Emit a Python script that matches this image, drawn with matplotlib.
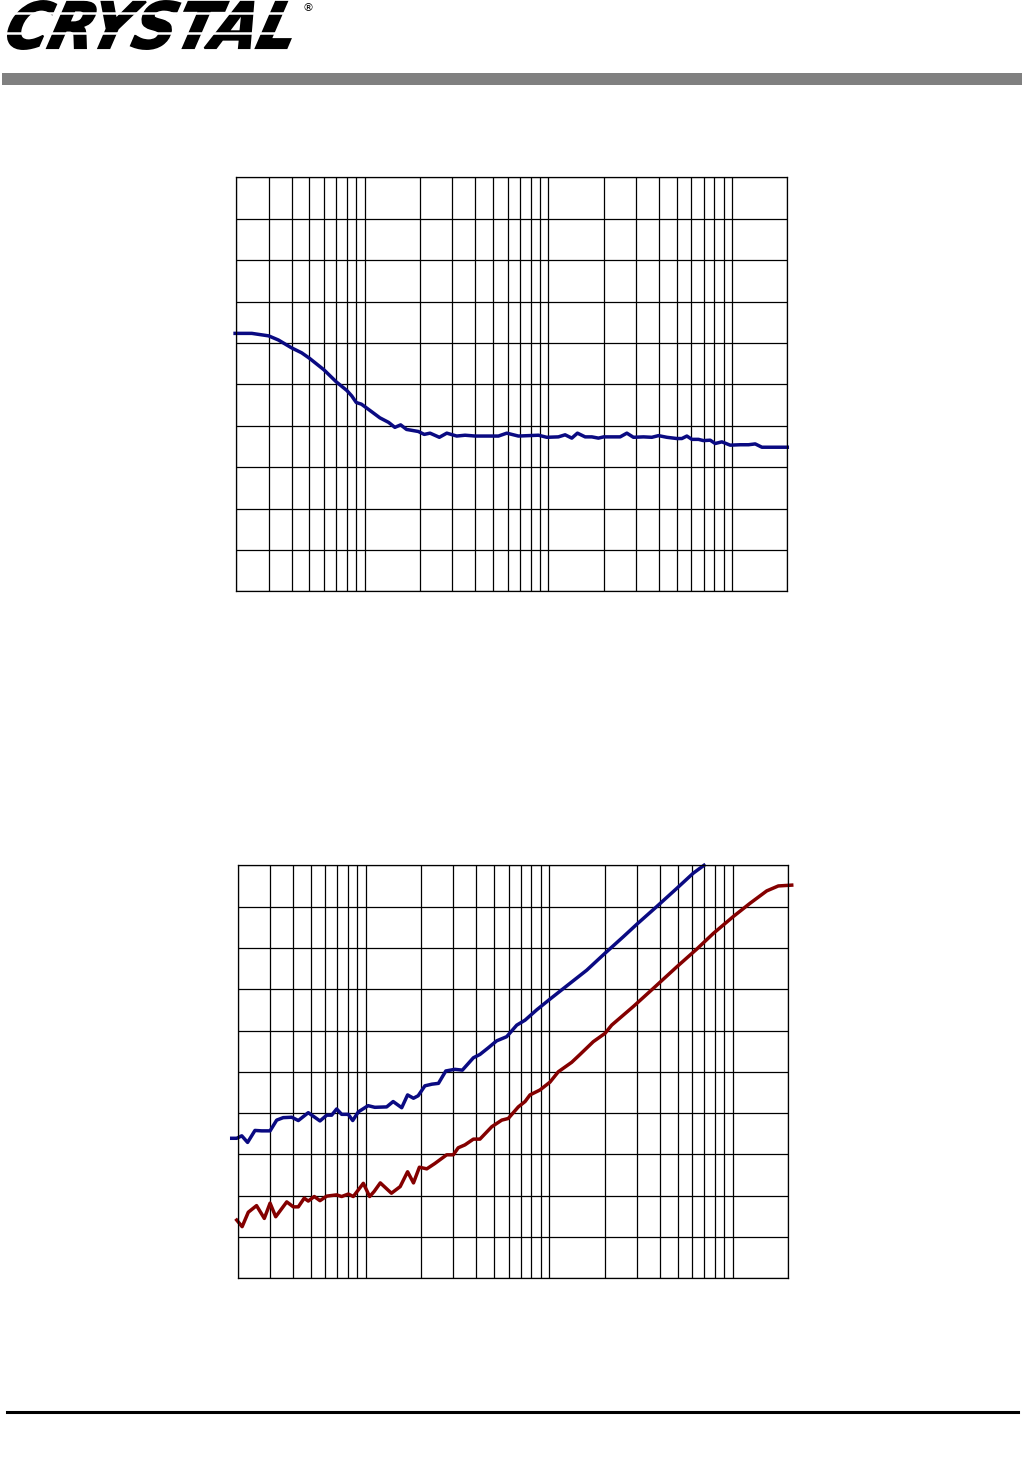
import matplotlib
matplotlib.use("Agg")
import matplotlib.pyplot as plt
from matplotlib.ticker import MultipleLocator
from matplotlib.lines import Line2D
from matplotlib.patches import Rectangle, PathPatch
from matplotlib.textpath import TextPath
from matplotlib.font_manager import FontProperties
from matplotlib.transforms import Affine2D

# top chart: one trace (Hz, dB)
top_freq = [19.7, 24.3, 30, 33.9, 40, 45.4, 50, 60, 70, 80, 85, 90, 96, 109, 121,
            135, 146, 157, 169, 196, 211, 227, 255, 280, 317, 352, 400, 535, 594,
            687, 883, 981, 1134, 1234, 1342, 1440, 1586, 1725, 1874, 2000, 2262,
            2460, 2676, 2906, 3296, 3660, 3978, 4418, 5010, 5334, 5678, 6046,
            6568, 6992, 7608, 8098, 8808, 9774, 11080, 12298, 13376, 14548, 20000]
top_db = [-57.7, -57.7, -58.3, -59.3, -61.2, -62.4, -63.7, -66.5, -69.4, -71.5,
          -72.8, -74.4, -74.8, -76.6, -78.1, -79.2, -80.4, -79.8, -80.9, -81.4,
          -82.1, -81.8, -82.8, -81.8, -82.5, -82.3, -82.5, -82.5, -81.8, -82.5,
          -82.3, -82.8, -82.7, -82.2, -83.0, -81.8, -82.7, -82.7, -83.0, -82.7,
          -82.7, -82.7, -81.8, -82.8, -82.7, -82.8, -82.4, -82.8, -83.1, -83.1,
          -82.5, -83.3, -83.3, -83.6, -83.5, -84.3, -83.9, -84.7, -84.6, -84.6,
          -84.4, -85.2, -85.2]

# bottom chart: blue trace
blue_freq = [18.6, 19.8, 21.1, 22.7, 24.9, 27.1, 30.1, 32.7, 35.5, 39.5, 42.9, 48.6,
             56.3, 61.3, 65.2, 69.4, 73.9, 80.3, 84.9, 91.1, 103, 112, 130, 141,
             157, 169, 182, 193, 210, 229, 249, 273, 306, 336, 386, 419, 465, 517,
             586, 665, 738, 854, 1009, 1245, 1600, 2012, 2532, 2996, 3850, 4950,
             6094, 6970]
blue_db = [-86.1, -86.1, -85.5, -87.1, -84.2, -84.3, -84.3, -81.7, -81.1, -81.0,
           -81.8, -79.9, -81.9, -80.5, -80.5, -79.0, -80.3, -80.3, -81.8, -79.7,
           -78.2, -78.6, -78.5, -77.2, -78.7, -75.6, -76.4, -75.8, -73.4, -73.0,
           -72.8, -69.8, -69.4, -69.6, -66.6, -65.8, -64.2, -62.5, -61.5, -58.7,
           -57.5, -55.0, -52.4, -49.2, -45.4, -41.3, -37.3, -34.3, -30.0, -25.6,
           -21.9, -20.0]

# bottom chart: red trace
red_freq = [19.8, 21.2, 22.9, 25.4, 28.0, 30.1, 32.3, 37.1, 40.3, 42.9, 46.2, 48.6,
            52.4, 56.3, 61.3, 69.4, 73.9, 80.3, 85.5, 97.0, 105, 111, 120, 138,
            154, 169, 182, 196, 215, 238, 276, 300, 319, 347, 386, 419, 486, 551,
            598, 678, 738, 785, 890, 1009, 1120, 1325, 1471, 1738, 2012, 2188,
            2870, 3690, 4950, 6362, 7834, 10070, 12418, 15312, 17706, 20956]
red_db = [-105.9, -107.5, -104.0, -102.4, -105.5, -101.8, -105.1, -101.5, -102.7,
          -102.7, -100.6, -101.3, -100.2, -101.2, -100.1, -99.8, -100.2, -99.6,
          -100.2, -97.0, -100.2, -99.0, -96.9, -99.4, -97.8, -94.2, -96.9, -93.1,
          -93.5, -92.2, -90.1, -90.1, -88.4, -87.7, -86.3, -86.3, -83.3, -81.7,
          -81.3, -78.5, -77.2, -75.6, -74.4, -72.5, -70.0, -67.7, -65.8, -62.7,
          -60.7, -58.7, -54.2, -49.8, -44.6, -40.3, -36.5, -32.4, -29.2, -26.2,
          -25.0, -24.8]

BLUE = "#0a0a82"
RED = "#840000"
W, H = 1022, 1476

fig = plt.figure(figsize=(W / 100, H / 100), dpi=100)


def px_axes(x0, y0, x1, y1):
    return fig.add_axes([x0 / W, 1 - y1 / H, (x1 - x0) / W, (y1 - y0) / H])


def grid_axes(ax):
    ax.set_xscale("log")
    ax.set_xlim(20, 20000)
    ax.set_ylim(-120, -20)
    ax.yaxis.set_major_locator(MultipleLocator(10))
    ax.grid(which="both", axis="x", color="black", lw=0.9)
    ax.grid(which="major", axis="y", color="black", lw=0.9)
    ax.tick_params(which="both", length=0, labelbottom=False, labelleft=False)
    for s in ax.spines.values():
        s.set_linewidth(0.9)
    ax.set_axisbelow(True)


ax1 = px_axes(236.3, 177.3, 787.3, 591.3)
grid_axes(ax1)
ax1.plot(top_freq, top_db, color=BLUE, lw=2.5, clip_on=False)

ax2 = px_axes(237.5, 865.3, 788, 1278.3)
grid_axes(ax2)
ax2.plot(blue_freq, blue_db, color=BLUE, lw=2.5, clip_on=False)
ax2.plot(red_freq, red_db, color=RED, lw=2.5, clip_on=False)

# header logo: word squeezed into the logo box, slanted, cut by two white stripes
fp = FontProperties(family="DejaVu Sans", weight="bold", style="italic")
tp = TextPath((0, 0), "CRYSTAL", size=100, prop=fp)
ext = tp.get_extents()
tr = (Affine2D().translate(-ext.x0, -ext.y0)
      .scale(284 / ext.width, 48 / ext.height)
      .skew_deg(14, 0)
      .translate(4, H - 49).scale(1 / W, 1 / H))
fig.add_artist(PathPatch(tr.transform_path(tp), facecolor="black", edgecolor="black",
                         lw=1.4, transform=fig.transFigure))
for sy in (13, 33):
    fig.add_artist(Line2D([0, 305 / W], [1 - sy / H, 1 - sy / H], color="white", lw=1.8))
fig.text(302 / W, 1 - 11 / H, "\u00ae", fontsize=8, color="black")
fig.add_artist(Rectangle((2 / W, 1 - 85 / H), 1020 / W, 12 / H, color="#808080", lw=0))

# footer rule
fig.add_artist(Line2D([7 / W, 1018 / W], [1 - 1411.5 / H, 1 - 1411.5 / H], color="black", lw=2.2))

fig.savefig("out.png", dpi=100)
